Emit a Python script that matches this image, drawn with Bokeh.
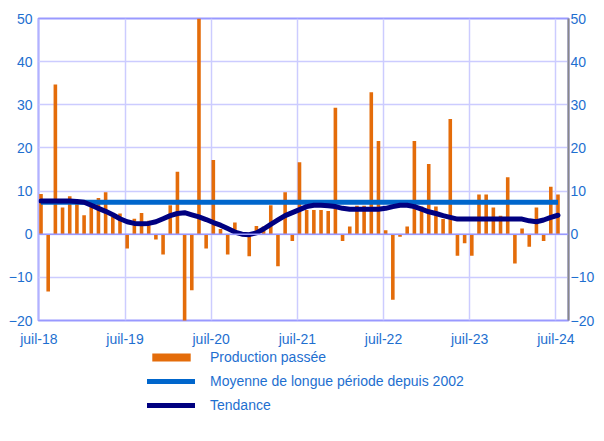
from bokeh.plotting import figure
from bokeh.models import (ColumnDataSource, FixedTicker, LinearAxis, Span, Legend,
                          LegendItem, Range1d)
from bokeh.layouts import column
from bokeh.transform import dodge
from bokeh.embed import file_html
from bokeh.resources import INLINE

# ---- data (monthly, juil-18 .. juil-24) ----
production = [9.3, -13.3, 34.7, 6.2, 8.8, 7.6, 4.4, 6.4, 8.4, 9.7,
              4.0, 4.8, -3.3, 3.6, 4.9, 3.1, -1.2, -4.7, 6.7, 14.5,
              -21.0, -13.0, 52.0, -3.3, 17.2, 1.2, -4.7, 2.7, 0.5, -5.1,
              1.9, 1.8, 6.7, -7.4, 9.7, -1.6, 16.7, 5.6, 5.6, 5.6,
              5.4, 29.3, -1.6, 1.8, 6.6, 6.6, 32.9, 21.6, 0.9, -15.2,
              -0.6, 1.8, 21.6, 6.4, 16.3, 6.4, 3.5, 26.7, -5.0, -2.1,
              -5.0, 9.2, 9.2, 6.2, 4.3, 13.2, -6.8, 1.3, -2.9, 6.2,
              -1.6, 11.0, 9.2]
tendance = [7.7, 7.7, 7.7, 7.7, 7.7, 7.6, 7.4, 6.7, 6.0, 5.3,
            4.5, 3.6, 2.9, 2.5, 2.4, 2.5, 2.9, 3.6, 4.3, 4.8,
            5.0, 4.5, 4.0, 3.4, 2.7, 2.1, 1.3, 0.5, 0.0, -0.1,
            0.3, 1.2, 2.3, 3.3, 4.3, 5.0, 5.7, 6.4, 6.7, 6.7,
            6.6, 6.4, 6.0, 5.8, 5.8, 5.8, 5.8, 5.8, 6.0, 6.4,
            6.7, 6.7, 6.4, 5.8, 5.2, 4.8, 4.3, 3.9, 3.5, 3.5,
            3.5, 3.5, 3.5, 3.5, 3.5, 3.5, 3.5, 3.5, 3.1, 2.9,
            3.3, 3.9, 4.4]
moyenne = 7.4
months = list(range(len(production)))
tick_labels = ["juil-18", "juil-19", "juil-20", "juil-21", "juil-22", "juil-23", "juil-24"]
tick_months = [0, 12, 24, 36, 48, 60, 72]
y_ticks = [-20, -10, 0, 10, 20, 30, 40, 50]
legend_labels = ["Production passée", "Moyenne de longue période depuis 2002", "Tendance"]

TXT = "#1E6FD0"
FONT = "Liberation Sans"
FS = "14px"
C_BAR, C_MEAN, C_TREND = "#E46C0A", "#0066CC", "#000080"

FW = 530            # frame width in px
PX_PER_MONTH = 7.18
X0 = -0.05

src = ColumnDataSource(dict(x=months, prod=production, trend=tendance,
                            mean=[moyenne] * len(months)))

p = figure(frame_width=FW, frame_height=302,
           min_border_left=28, min_border_top=18, min_border_right=24, min_border_bottom=26,
           x_range=Range1d(X0, X0 + FW / PX_PER_MONTH), y_range=Range1d(-20, 50),
           output_backend="svg", toolbar_location=None, y_axis_location=None,
           x_axis_location=None)
p.background_fill_color = "white"
p.border_fill_color = "white"
p.outline_line_color = "#9999FF"
p.outline_line_width = 2

# grids
p.xgrid.ticker = FixedTicker(ticks=tick_months)
p.ygrid.ticker = FixedTicker(ticks=y_ticks)
p.xgrid.grid_line_color = "#CCCCFF"
p.ygrid.grid_line_color = "#CCCCFF"
p.xgrid.grid_line_width = 1.5
p.ygrid.grid_line_width = 1.5

zero = Span(location=0, dimension="width", line_color="#9999FF", line_width=1.5)
p.add_layout(zero)

xs = dodge("x", 0.3, range=p.x_range)
p.vbar(x=xs, top="prod", bottom=0, width=0.5, source=src, fill_color=C_BAR, line_color=None)
p.line(x=xs, y="mean", source=src, line_color=C_MEAN, line_width=5)
p.line(x=xs, y="trend", source=src, line_color=C_TREND, line_width=5,
       line_join="round", line_cap="round")

# axes
xax = LinearAxis(ticker=FixedTicker(ticks=tick_months),
                 major_label_overrides={t: l for t, l in zip(tick_months, tick_labels)})
xax.axis_line_color = None
xax.major_tick_line_color = None
xax.minor_tick_line_color = None
xax.major_tick_out = 0
xax.major_tick_in = 0
xax.minor_tick_out = 0
xax.major_label_standoff = 10
p.add_layout(xax, "below")

yl = LinearAxis(ticker=FixedTicker(ticks=y_ticks))
yl.axis_line_color = None
yl.major_tick_line_color = None
yl.minor_tick_line_color = None
yl.major_tick_out = 0
yl.minor_tick_out = 0
yl.major_label_standoff = 6
p.add_layout(yl, "left")

yr = LinearAxis(ticker=FixedTicker(ticks=y_ticks))
yr.axis_line_color = "#888888"
yr.axis_line_width = 2
yr.major_tick_line_color = None
yr.minor_tick_line_color = None
yr.major_tick_out = 0
yr.minor_tick_out = 0
yr.major_label_standoff = 2
p.add_layout(yr, "right")

for ax in (xax, yl, yr):
    ax.major_label_text_color = TXT
    ax.major_label_text_font = FONT
    ax.major_label_text_font_size = FS

# ---- legend panel (separate figure below the chart; its renderers fall outside its ranges) ----
lg = figure(frame_width=FW, frame_height=88, min_border_left=28, min_border_right=24,
            min_border_top=0, min_border_bottom=0,
            x_range=Range1d(-0.3, 74.3), y_range=Range1d(1000, 1090),
            output_backend="svg", toolbar_location=None,
            x_axis_location=None, y_axis_location=None)
lg.outline_line_color = None
lg.xgrid.visible = False
lg.ygrid.visible = False
r_bar = lg.vbar(x="x", top="prod", bottom=0, width=0.5, source=src, fill_color=C_BAR, line_color=None)
r_mean = lg.line(x="x", y="mean", source=src, line_color=C_MEAN, line_width=5, line_cap="round")
r_trend = lg.line(x="x", y="trend", source=src, line_color=C_TREND, line_width=5, line_cap="round")

legend = Legend(items=[LegendItem(label=legend_labels[0], renderers=[r_bar]),
                       LegendItem(label=legend_labels[1], renderers=[r_mean]),
                       LegendItem(label=legend_labels[2], renderers=[r_trend])],
                location=(109, 24), orientation="vertical")
legend.border_line_color = None
legend.background_fill_alpha = 0
legend.padding = 0
legend.margin = 0
legend.spacing = 8
legend.glyph_width = 48
legend.glyph_height = 10
legend.label_height = 16
legend.label_standoff = 15
legend.label_text_color = TXT
legend.label_text_font = FONT
legend.label_text_font_size = FS
lg.add_layout(legend)

layout = column(p, lg, spacing=0, margin=(0, 0, 0, 5))
open("out.html", "w").write(file_html(layout, INLINE))
